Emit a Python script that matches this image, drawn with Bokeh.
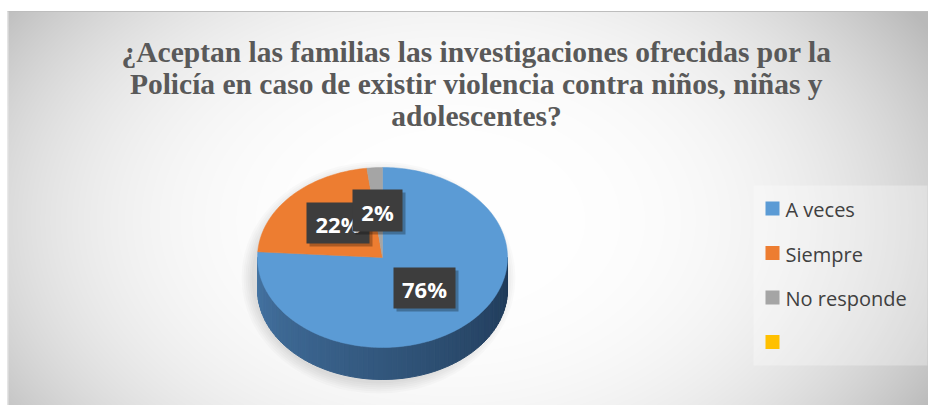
import numpy as np
from bokeh.plotting import figure
from bokeh.models import Range1d
from bokeh.core.properties import value
from bokeh.embed import file_html
from bokeh.resources import INLINE

# ---- data ----
title_lines = ["¿Aceptan las familias las investigaciones ofrecidas por la",
               "Policía en caso de existir violencia contra niños, niñas y",
               "adolescentes?"]
categories = ["A veces", "Siempre", "No responde", ""]
values = [76, 22, 2, 0]
colors = ["#5b9bd5", "#ed7d31", "#a5a5a5", "#ffc000"]
labels = ["76%", "22%", "2%"]

W, H = 928, 405
p = figure(width=W, height=H, x_range=Range1d(0, W), y_range=Range1d(0, H),
           output_backend="svg", toolbar_location=None, min_border=0,
           x_axis_type=None, y_axis_type=None)
p.grid.visible = False
p.outline_line_color = None
p.background_fill_color = "white"
p.border_fill_color = "white"

# ---- radial gradient background ----
x0b, gw, gh = 7, 921, 394
X, Y = np.meshgrid(np.arange(gw) + 0.5 + x0b, np.arange(gh) + 0.5)
gcx, gcy = 450, 185
d = np.sqrt(((X - gcx) / 470.0) ** 2 + ((Y - gcy) / 320.0) ** 2)
g = np.clip(255 - 42 * d ** 3, 185, 255).astype(np.uint8)
img = np.empty((gh, gw), dtype=np.uint32)
view = img.view(dtype=np.uint8).reshape((gh, gw, 4))
view[..., 0] = g
view[..., 1] = g
view[..., 2] = g
view[..., 3] = 255
p.image_rgba(image=[img], x=x0b, y=0, dw=gw, dh=gh)
p.segment(x0=[x0b], y0=[394], x1=[928], y1=[394], line_color="#bdbdbd", line_width=1)
p.segment(x0=[x0b + 0.5], y0=[0], x1=[x0b + 0.5], y1=[394], line_color="#e6e6e6", line_width=1)

# ---- title ----
p.text(x=[476] * 3, y=[354, 322, 290], text=title_lines,
       text_font=value("Liberation Serif"), text_font_style="bold",
       text_font_size="29.5px", text_color="#595959",
       text_align="center", text_baseline="alphabetic")

# ---- 3D pie ----
cx, cy = 382, 148
a, b, depth = 125, 90, 32

# soft shadow
for k in range(6):
    p.ellipse(x=[cx - 4], y=[cy - depth / 2 - 4], width=[2 * a + 24 - 4 * k],
              height=[2 * b + depth + 20 - 4 * k], fill_color="#000000",
              fill_alpha=0.02, line_color=None)


def lerp(c1, c2, t):
    r = [int(round(c1[i] + (c2[i] - c1[i]) * t)) for i in range(3)]
    return "#%02x%02x%02x" % tuple(r)


dark = (0x1f, 0x39, 0x56)
light = (0x45, 0x74, 0xa3)
nseg = 80
angs = np.linspace(np.pi / 2, 3 * np.pi / 2, nseg + 1)
side_xs, side_ys, side_cols = [], [], []
for i in range(nseg):
    t0, t1 = angs[i], angs[i + 1]
    xa, xb = cx + a * np.sin(t0), cx + a * np.sin(t1)
    ya, yb = cy + b * np.cos(t0), cy + b * np.cos(t1)
    side_xs.append([xa, xb, xb, xa])
    side_ys.append([ya, yb, yb - depth, ya - depth])
    side_cols.append(lerp(dark, light, i / (nseg - 1)))
p.patches(xs=side_xs, ys=side_ys, fill_color=side_cols, line_color=side_cols, line_width=1)

# top slices
total = float(sum(values))
start = 0.0
top_xs, top_ys, top_cols = [], [], []
for v, c in zip(values, colors):
    if v == 0:
        continue
    ext = v / total * 2 * np.pi
    th = np.linspace(start, start + ext, max(4, int(v * 3)))
    top_xs.append([cx] + list(cx + a * np.sin(th)))
    top_ys.append([cy] + list(cy + b * np.cos(th)))
    top_cols.append(c)
    start += ext
p.patches(xs=top_xs, ys=top_ys, fill_color=top_cols, line_color=top_cols, line_width=0.5)

# ---- data labels ----
box_x = [424, 337.5, 377]
box_y = [117.5, 182.5, 195]
box_w = [62, 63, 50]
box_h = [41, 41, 42]
for i in range(3):
    p.rect(x=[box_x[i] + 3], y=[box_y[i] - 3], width=[box_w[i]], height=[box_h[i]],
           fill_color="#000000", fill_alpha=0.28, line_color=None)
    p.rect(x=[box_x[i]], y=[box_y[i]], width=[box_w[i]], height=[box_h[i]],
           fill_color="#3d3d3d", line_color=None)
    p.text(x=[box_x[i]], y=[box_y[i] - 1], text=[labels[i]],
           text_font=value("Open Sans"), text_font_style="bold",
           text_font_size="22px", text_color="white",
           text_align="center", text_baseline="alphabetic")

# ---- legend ----
p.quad(left=[753], right=[927], bottom=[40], top=[220], fill_color="white",
       fill_alpha=0.3, line_color=None)
row_y = [197 - 44.5 * i for i in range(len(categories))]
p.rect(x=[772] * len(categories), y=row_y, width=14, height=14,
       fill_color=colors, line_color=None)
p.text(x=[785] * len(categories), y=[ry - 1 for ry in row_y], text=categories,
       text_font=value("Open Sans"), text_font_size="20px", text_color="#404040",
       text_baseline="alphabetic")

open("out.html", "w").write(file_html(p, INLINE))
